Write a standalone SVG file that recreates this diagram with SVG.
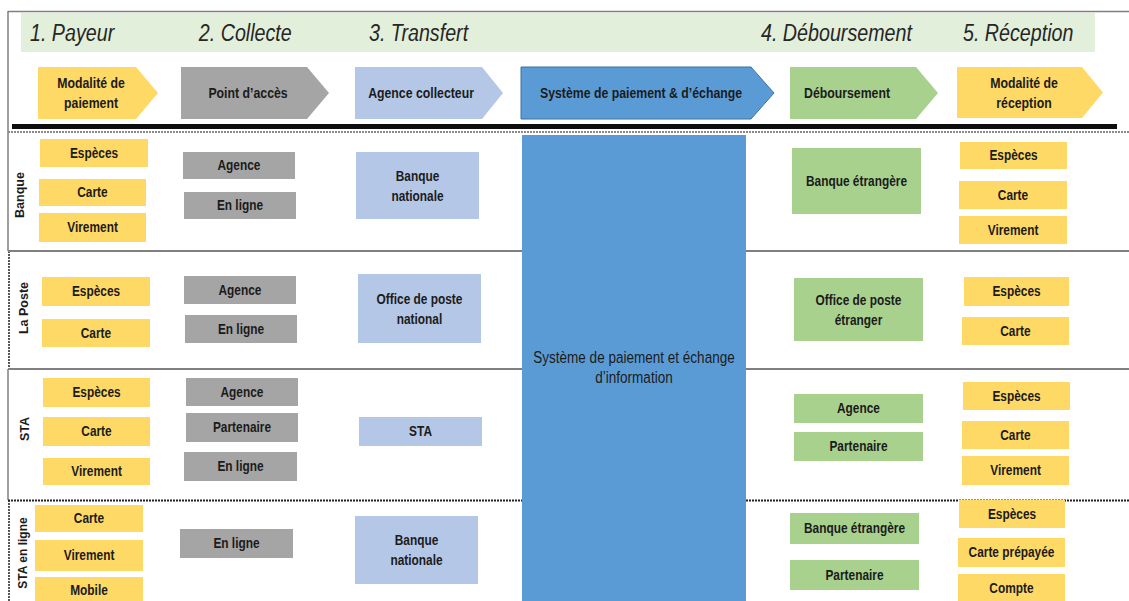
<svg xmlns="http://www.w3.org/2000/svg" width="1129" height="601" viewBox="0 0 1129 601">
<style>
.hd{font-family:"Liberation Sans",Arial,sans-serif;font-style:italic;font-size:24px;fill:#262626;transform-box:fill-box;transform-origin:left center;transform:scaleX(0.82)}
.t{font-family:"Liberation Sans",Arial,sans-serif;font-weight:bold;font-size:14.5px;fill:#1b1b1b;text-anchor:middle;transform-box:fill-box;transform-origin:center;transform:scaleX(0.82)}
.ch{font-size:15px}
.big{font-weight:normal;font-size:16.5px}
.lab{font-family:"Liberation Sans",Arial,sans-serif;font-weight:bold;font-size:12.5px;fill:#1b1b1b;text-anchor:middle}
.y{fill:#ffd966}
.g{fill:#a5a5a5}
.lb{fill:#b4c7e7}
.b{fill:#5b9bd5}
.gr{fill:#a9d18e}
.sol{stroke:#7f7f7f;stroke-width:2;fill:none}
.dot{stroke:#222;stroke-width:2;stroke-dasharray:2 1;fill:none}
.dotg{stroke:#8a8a8a;stroke-width:2;stroke-dasharray:2 1;fill:none}
</style>
<rect width="1129" height="601" fill="#ffffff"/>
<g id="frame">
<line class="sol" x1="8" y1="11.5" x2="1129" y2="11.5" style="stroke-width:1.5"/>
<line class="sol" x1="8" y1="11" x2="8" y2="251" style="stroke-width:1.5"/>
<line class="dot" x1="9" y1="251" x2="9" y2="369" style="stroke-width:1.5"/>
<line class="sol" x1="8" y1="369" x2="8" y2="500" style="stroke-width:1.5"/>
<line class="dot" x1="9" y1="500" x2="9" y2="601" style="stroke-width:1.5"/>
<rect x="21" y="13" width="1074" height="39" fill="#e2efda"/>
<rect x="12" y="124" width="1105" height="5" fill="#0d0d0d"/>
<line class="dotg" x1="8" y1="132" x2="1129" y2="132"/>
<line class="sol" x1="8" y1="251" x2="1129" y2="251"/>
<line class="sol" x1="8" y1="369" x2="1129" y2="369"/>
<line class="dot" x1="8" y1="500.5" x2="1129" y2="500.5"/>
</g>
<g id="headers">
<text class="hd" x="30" y="41">1. Payeur</text>
<text class="hd" x="199" y="41">2. Collecte</text>
<text class="hd" x="369" y="41">3. Transfert</text>
<text class="hd" x="761" y="41">4. Déboursement</text>
<text class="hd" x="963" y="41">5. Réception</text>
</g>
<g id="chevrons">
<g id="ch-payeur"><path class="y" d="M38 67H136L158 93L136 119H38Z"/><text class="t ch" x="91" y="88">Modalité de</text><text class="t ch" x="91" y="108">paiement</text></g>
<g id="ch-acces"><path class="g" d="M181 67H307L329 93L307 119H181Z"/><text class="t ch" x="248" y="98">Point d’accès</text></g>
<g id="ch-agence"><path class="lb" d="M355 67H482L503 93L482 119H355Z"/><text class="t ch" x="421" y="98">Agence collecteur</text></g>
<g id="ch-systeme"><path class="b" d="M521 67H751L774 93L751 119H521Z" stroke="#41719c" stroke-width="1"/><text class="t ch" x="641" y="98">Système de paiement &amp; d’échange</text></g>
<g id="ch-debours"><path class="gr" d="M790 67H916L938 93L916 119H790Z"/><text class="t ch" x="847" y="98">Déboursement</text></g>
<g id="ch-reception"><path class="y" d="M957 67H1082L1103 92.5L1082 118H957Z"/><text class="t ch" x="1024" y="88">Modalité de</text><text class="t ch" x="1024" y="108">réception</text></g>
</g>
<g id="row-labels">
<text class="lab" transform="rotate(-90 24 195)" x="24" y="195">Banque</text>
<text class="lab" transform="rotate(-90 28 308)" x="28" y="308">La Poste</text>
<text class="lab" transform="rotate(-90 29 429)" x="29" y="429">STA</text>
<text class="lab" transform="rotate(-90 27 553)" x="27" y="553" style="font-size:12px">STA en ligne</text>
</g>
<g id="systeme">
<rect class="b" x="522" y="135" width="224" height="470"/>
<text class="t big" x="634" y="363">Système de paiement et échange</text>
<text class="t big" x="634" y="383">d’information</text>
</g>
<g id="row-banque">
<g id="b-especes"><rect class="y" x="40" y="139" width="108" height="28"/><text class="t" x="94" y="158">Espèces</text></g>
<g id="b-carte"><rect class="y" x="39" y="179" width="107" height="27"/><text class="t" x="92.5" y="197.5">Carte</text></g>
<g id="b-virement"><rect class="y" x="39" y="213" width="107" height="29"/><text class="t" x="92.5" y="232.5">Virement</text></g>
<g id="b-agence"><rect class="g" x="183" y="152" width="112" height="27"/><text class="t" x="239" y="170.5">Agence</text></g>
<g id="b-enligne"><rect class="g" x="184" y="192" width="112" height="27"/><text class="t" x="240" y="210.5">En ligne</text></g>
<g id="b-banquenat"><rect class="lb" x="356" y="152" width="123" height="67"/><text class="t" x="417.5" y="181">Banque</text><text class="t" x="417.5" y="201">nationale</text></g>
<g id="b-banqueetr"><rect class="gr" x="792" y="148" width="129" height="66"/><text class="t" x="856.5" y="186">Banque étrangère</text></g>
<g id="b-r-especes"><rect class="y" x="960" y="142" width="107" height="27"/><text class="t" x="1013.5" y="160.5">Espèces</text></g>
<g id="b-r-carte"><rect class="y" x="959" y="181" width="108" height="28"/><text class="t" x="1013" y="200">Carte</text></g>
<g id="b-r-virement"><rect class="y" x="959" y="216" width="108" height="28"/><text class="t" x="1013" y="235">Virement</text></g>
</g>
<g id="row-poste">
<g id="p-especes"><rect class="y" x="42" y="277" width="108" height="29"/><text class="t" x="96" y="296.5">Espèces</text></g>
<g id="p-carte"><rect class="y" x="42" y="319" width="108" height="28"/><text class="t" x="96" y="338">Carte</text></g>
<g id="p-agence"><rect class="g" x="184" y="276" width="112" height="28"/><text class="t" x="240" y="295">Agence</text></g>
<g id="p-enligne"><rect class="g" x="185" y="315" width="112" height="28"/><text class="t" x="241" y="334">En ligne</text></g>
<g id="p-officenat"><rect class="lb" x="358" y="274" width="123" height="69"/><text class="t" x="419.5" y="304">Office de poste</text><text class="t" x="419.5" y="324">national</text></g>
<g id="p-officeetr"><rect class="gr" x="794" y="278" width="129" height="63"/><text class="t" x="858.5" y="305">Office de poste</text><text class="t" x="858.5" y="325">étranger</text></g>
<g id="p-r-especes"><rect class="y" x="964" y="277" width="105" height="29"/><text class="t" x="1016.5" y="296.5">Espèces</text></g>
<g id="p-r-carte"><rect class="y" x="962" y="317" width="107" height="28"/><text class="t" x="1015.5" y="336">Carte</text></g>
</g>
<g id="row-sta">
<g id="s-especes"><rect class="y" x="43" y="378" width="107" height="29"/><text class="t" x="96.5" y="397.5">Espèces</text></g>
<g id="s-carte"><rect class="y" x="43" y="417" width="107" height="29"/><text class="t" x="96.5" y="436.5">Carte</text></g>
<g id="s-virement"><rect class="y" x="43" y="458" width="107" height="27"/><text class="t" x="96.5" y="476.5">Virement</text></g>
<g id="s-agence"><rect class="g" x="186" y="378" width="112" height="28"/><text class="t" x="242" y="397">Agence</text></g>
<g id="s-partenaire"><rect class="g" x="186" y="413" width="112" height="29"/><text class="t" x="242" y="432.5">Partenaire</text></g>
<g id="s-enligne"><rect class="g" x="184" y="452" width="113" height="29"/><text class="t" x="240.5" y="471.5">En ligne</text></g>
<g id="s-sta"><rect class="lb" x="359" y="417" width="123" height="29"/><text class="t" x="420.5" y="436.5">STA</text></g>
<g id="s-d-agence"><rect class="gr" x="794" y="394" width="129" height="29"/><text class="t" x="858.5" y="413.5">Agence</text></g>
<g id="s-d-partenaire"><rect class="gr" x="794" y="432" width="129" height="29"/><text class="t" x="858.5" y="451.5">Partenaire</text></g>
<g id="s-r-especes"><rect class="y" x="963" y="382" width="107" height="28"/><text class="t" x="1016.5" y="401">Espèces</text></g>
<g id="s-r-carte"><rect class="y" x="962" y="421" width="107" height="28"/><text class="t" x="1015.5" y="440">Carte</text></g>
<g id="s-r-virement"><rect class="y" x="962" y="456" width="107" height="29"/><text class="t" x="1015.5" y="475.5">Virement</text></g>
</g>
<g id="row-sta-en-ligne">
<g id="l-carte"><rect class="y" x="35" y="505" width="108" height="27"/><text class="t" x="89" y="523.5">Carte</text></g>
<g id="l-virement"><rect class="y" x="35" y="540" width="108" height="31"/><text class="t" x="89" y="560.5">Virement</text></g>
<g id="l-mobile"><rect class="y" x="35" y="577" width="108" height="30"/><text class="t" x="89" y="595">Mobile</text></g>
<g id="l-enligne"><rect class="g" x="180" y="529" width="113" height="29"/><text class="t" x="236.5" y="548.5">En ligne</text></g>
<g id="l-banquenat"><rect class="lb" x="355" y="516" width="123" height="68"/><text class="t" x="416.5" y="545">Banque</text><text class="t" x="416.5" y="565">nationale</text></g>
<g id="l-banqueetr"><rect class="gr" x="790" y="513" width="129" height="31"/><text class="t" x="854.5" y="533.5">Banque étrangère</text></g>
<g id="l-partenaire"><rect class="gr" x="790" y="560" width="129" height="30"/><text class="t" x="854.5" y="580">Partenaire</text></g>
<g id="l-r-especes"><rect class="y" x="959" y="500" width="106" height="28"/><text class="t" x="1012" y="519">Espèces</text></g>
<g id="l-r-carte"><rect class="y" x="958" y="538" width="107" height="29"/><text class="t" x="1011.5" y="557.5">Carte prépayée</text></g>
<g id="l-r-compte"><rect class="y" x="958" y="574" width="107" height="30"/><text class="t" x="1011.5" y="593">Compte</text></g>
</g>
<g id="connectors"></g>
</svg>
